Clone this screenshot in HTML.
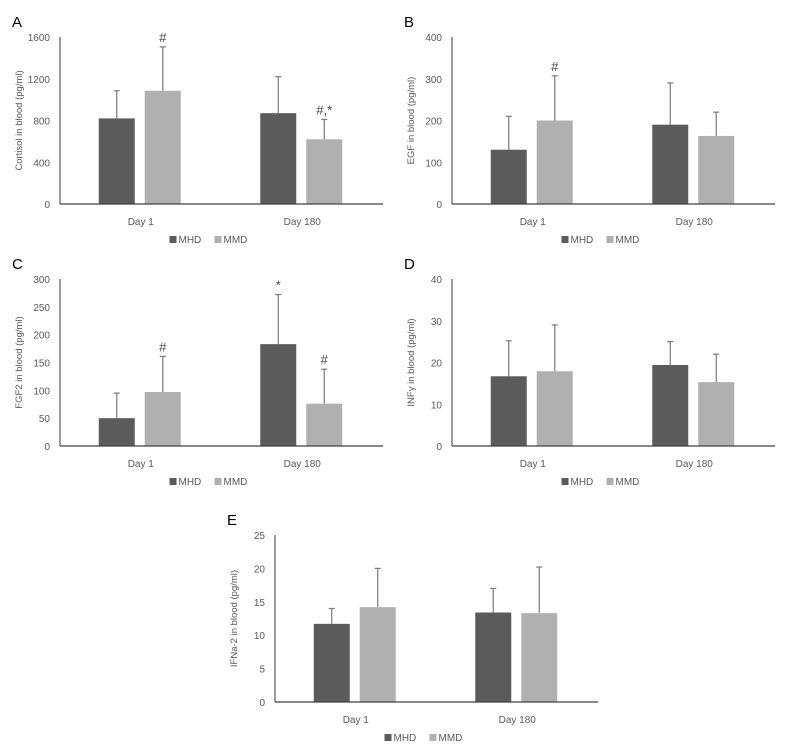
<!DOCTYPE html>
<html><head><meta charset="utf-8"><style>
body{margin:0;background:#fff;font-family:"Liberation Sans",sans-serif;}
svg text{font-family:"Liberation Sans",sans-serif;}
</style></head><body>
<svg id="fig" width="792" height="744" xmlns="http://www.w3.org/2000/svg"></svg>
<script>
const categories = ["Day 1", "Day 180"];
const seriesNames = ["MHD", "MMD"];
const panelLetters = ["A","B","C","D","E"];
const yTitles = ["Cortisol in blood (pg/ml)","EGF in blood (pg/ml)","FGF2 in blood (pg/ml)","INFγ in blood (pg/ml)","IFNa-2 in blood (pg/ml)"];
const yMax = [1600, 400, 300, 40, 25];
const yStep = [400, 100, 50, 10, 5];
const mhdValues = [[820, 870],[130, 190],[50, 183],[16.7, 19.4],[11.7, 13.4]];
const mhdErrTop = [[1085, 1220],[210, 290],[95, 272],[25.2, 25],[14, 17]];
const mmdValues = [[1085, 620],[200, 163],[97, 76],[17.9, 15.3],[14.2, 13.3]];
const mmdErrTop = [[1505, 810],[307, 220],[161, 138],[29, 22],[20, 20.2]];
const mhdAnnot = [["",""],["",""],["","*"],["",""],["",""]];
const mmdAnnot = [["#","#,*"],["#",""],["#","#"],["",""],["",""]];

const NS="http://www.w3.org/2000/svg";
const svg=document.getElementById('fig');
function mk(tag,attrs,parent){const e=document.createElementNS(NS,tag);for(const k in attrs)e.setAttribute(k,attrs[k]);(parent||svg).appendChild(e);return e;}
const layout=[[60,37],[452,37],[60,279],[452,279],[275,535]];
const W=323,H=167;
const colors=["#5b5b5b","#b0b0b0"];
for(let p=0;p<5;p++){
  const [ox,oy]=layout[p];
  const g=mk('g',{});
  
  
  const y=v=>oy+H-v/yMax[p]*H;
  const lt=mk('text',{x:ox-48,y:oy-10,'font-size':15,fill:'#000'},g);lt.textContent=panelLetters[p];
  
  for(let t=0;t<=yMax[p];t+=yStep[p]){
    const tx=mk('text',{x:ox-10,y:y(t)+4,'font-size':10,fill:'#595959','text-anchor':'end'},g);tx.textContent=t;
    
  }
  const yt=mk('text',{x:0,y:0,'font-size':9.5,fill:'#595959','text-anchor':'middle',transform:`translate(${ox-38},${oy+H/2}) rotate(-90)`},g);yt.textContent=yTitles[p];
  
  const series=[[mhdValues,mhdErrTop,mhdAnnot],[mmdValues,mmdErrTop,mmdAnnot]];
  for(let c=0;c<2;c++){
    const cx=ox+W*(c*2+1)/4;
    for(let s=0;s<2;s++){
      const [vals,errs,ann]=series[s];
      const bx=cx-42+s*46;
      const v=vals[p][c];
      const r=mk('rect',{x:bx,y:y(v),width:36,height:y(0)-y(v),fill:colors[s]},g);
      
      const mx=bx+18;
      const el=mk('line',{x1:mx,x2:mx,y1:y(v),y2:y(errs[p][c]),stroke:'#7a7a7a','stroke-width':1.2},g);
      
      const ec=mk('line',{x1:mx-3,x2:mx+3,y1:y(errs[p][c]),y2:y(errs[p][c]),stroke:'#7a7a7a','stroke-width':1.2},g);
      
      if(ann[p][c]){const a=mk('text',{x:mx,y:y(errs[p][c])-5,'font-size':13,fill:'#444','text-anchor':'middle'},g);a.textContent=ann[p][c];
        }
    }
    const cl=mk('text',{x:cx,y:oy+H+21,'font-size':10,fill:'#595959','text-anchor':'middle'},g);cl.textContent=categories[c];
    
  }
  const ax=mk('line',{x1:ox,x2:ox,y1:oy,y2:oy+H,stroke:'#595959','stroke-width':1.2},g);
  
  const bx=mk('line',{x1:ox,x2:ox+W,y1:oy+H,y2:oy+H,stroke:'#404040','stroke-width':1.2},g);
  
  const lx=ox+W/2-52, ly=oy+H+39;
  for(let s=0;s<2;s++){
    const lg=mk('g',{},g);
    
    mk('rect',{x:lx+s*45,y:ly-7,width:7,height:7,fill:colors[s]},lg);
    const lt2=mk('text',{x:lx+s*45+9,y:ly,'font-size':10,fill:'#595959'},lg);lt2.textContent=seriesNames[s];
  }
}
</script>
</body></html>
